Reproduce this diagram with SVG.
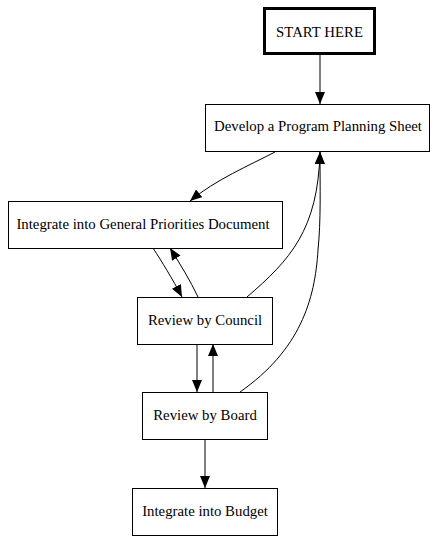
<svg xmlns="http://www.w3.org/2000/svg" width="442" height="543" viewBox="0 0 442 543">
<style>
.n rect{fill:#fff;stroke:#000;stroke-width:1}
.n text{font-family:"Liberation Serif","Times New Roman",serif;font-size:14.8px;text-anchor:middle;fill:#000}
.e path{fill:none;stroke:#000;stroke-width:1}
</style>
<defs>
<marker id="ah" markerUnits="userSpaceOnUse" markerWidth="14" markerHeight="12" refX="12" refY="5" orient="auto">
<path d="M0,0 L12,5 L0,10 Z" fill="#000"/>
</marker>
</defs>
<rect width="442" height="543" fill="#fff"/>
<g class="e">
<path d="M320,54 L320,104" marker-end="url(#ah)"/>
<path d="M275,152 C250,165 215,180 190,201" marker-end="url(#ah)"/>
<path d="M153,248 C162,262 172,278 182,297" marker-end="url(#ah)"/>
<path d="M198,297 C190,280 180,264 170,248" marker-end="url(#ah)"/>
<path d="M247,297 C290,260 318,230 320,152" marker-end="url(#ah)"/>
<path d="M240,392 C300,350 315,300 318,250 C321,220 320,190 320,152" marker-end="url(#ah)"/>
<path d="M197,344 L197,392" marker-end="url(#ah)"/>
<path d="M213,392 L213,344" marker-end="url(#ah)"/>
<path d="M205,440 L205,488" marker-end="url(#ah)"/>
</g>
<g id="start" class="n"><rect x="264.5" y="8.5" width="110" height="45" style="stroke-width:3"/><text x="319.5" y="37">START HERE</text></g>
<g id="develop" class="n"><rect x="205.5" y="104.5" width="224" height="47"/><text x="318" y="131">Develop a Program Planning Sheet</text></g>
<g id="integrate" class="n"><rect x="8.5" y="201.5" width="274" height="47"/><text x="143" y="229">Integrate into General Priorities Document</text></g>
<g id="council" class="n"><rect x="137.5" y="297.5" width="135" height="47"/><text x="205" y="325">Review by Council</text></g>
<g id="board" class="n"><rect x="142.5" y="392.5" width="125" height="47"/><text x="205" y="420">Review by Board</text></g>
<g id="budget" class="n"><rect x="132.5" y="488.5" width="145" height="47"/><text x="205" y="516">Integrate into Budget</text></g>
</svg>
